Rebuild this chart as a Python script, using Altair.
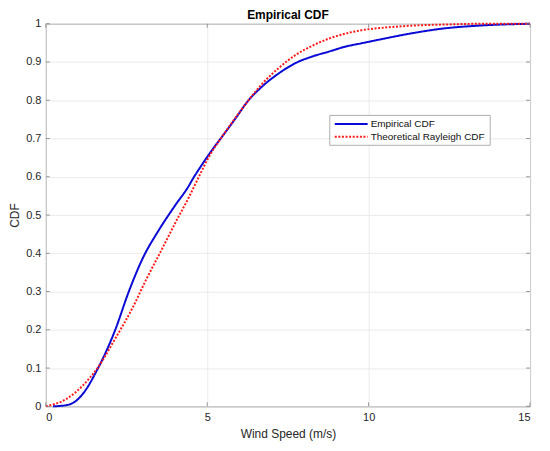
import altair as alt
import pandas as pd

# Empirical CDF
emp_x = [0.22, 0.63, 0.9, 1.14, 1.6, 2.15, 2.57, 2.99, 3.51, 4.02, 4.44, 4.50,
         4.80, 5.15, 5.46, 5.88, 6.25, 6.70, 7.21, 7.73, 8.24, 8.76, 9.27, 9.78, 10.3,
         11.33, 12.36, 13.39, 15.0]
emp_y = [0.0, 0.003, 0.012, 0.032, 0.097, 0.20, 0.30, 0.385, 0.462, 0.527, 0.578, 0.587,
         0.627, 0.67, 0.705, 0.753, 0.797, 0.836, 0.87, 0.897, 0.914, 0.927, 0.94, 0.949, 0.958,
         0.975, 0.988, 0.995, 1.0]

# Theoretical Rayleigh CDF
th_x = [0.0, 0.63, 1.14, 1.6, 2.17, 2.69, 3.1, 3.56, 4.02, 4.44, 4.74, 5.05, 5.46, 5.88, 6.25,
        6.70, 7.21, 7.73, 8.24, 8.76, 9.27, 9.78, 10.5, 11.33, 12.36, 13.5, 15.0]
th_y = [0.0, 0.019, 0.054, 0.10, 0.18, 0.258, 0.33, 0.405, 0.481, 0.548, 0.60, 0.652, 0.705, 0.755, 0.797,
        0.843, 0.884, 0.918, 0.942, 0.961, 0.974, 0.983, 0.99, 0.995, 0.998, 1.0, 1.0]

series = ["Empirical CDF", "Theoretical Rayleigh CDF"]
colors = ["#0a0ad6", "#ff1a1a"]
dashes = [[1, 0], [2, 1.6]]
x_ticks = [0, 5, 10, 15]
y_ticks = [0, 0.1, 0.2, 0.3, 0.4, 0.5, 0.6, 0.7, 0.8, 0.9, 1.0]

W, H = 486, 384
FONT = "Liberation Sans"

df = pd.concat([
    pd.DataFrame({"x": emp_x, "y": emp_y, "s": series[0], "o": 0}),
    pd.DataFrame({"x": th_x, "y": th_y, "s": series[1], "o": 1}),
])

xs = alt.Scale(domain=[0, 15], nice=False)
ys = alt.Scale(domain=[0, 1], nice=False)

x_axis = alt.Axis(values=x_ticks, title="Wind Speed (m/s)", grid=True, tickSize=0,
                  labelPadding=5, titlePadding=6, domain=False, labelOverlap=False)
y_axis = alt.Axis(values=y_ticks, title="CDF", grid=True, tickSize=0,
                  labelPadding=5, titlePadding=4, domain=False, labelOverlap=False,
                  labelExpr="datum.value == 0 ? '0' : datum.value == 1 ? '1' : format(datum.value, '.1f')")

lines = alt.Chart(df).mark_line(strokeWidth=2, interpolate="monotone").encode(
    x=alt.X("x:Q", scale=xs, axis=x_axis),
    y=alt.Y("y:Q", scale=ys, axis=y_axis),
    color=alt.Color("s:N", scale=alt.Scale(domain=series, range=colors), legend=None),
    strokeDash=alt.StrokeDash("s:N", scale=alt.Scale(domain=series, range=dashes), legend=None),
    order="o:Q",
)

ydf = pd.DataFrame({"v": y_ticks})
xdf = pd.DataFrame({"v": x_ticks})
tick_style = dict(color="#7f7f7f", strokeWidth=0.8)
yl = alt.Chart(ydf).mark_rule(**tick_style).encode(y=alt.Y("v:Q", scale=ys, axis=y_axis), x=alt.value(0), x2=alt.value(4))
yr = alt.Chart(ydf).mark_rule(**tick_style).encode(y=alt.Y("v:Q", scale=ys, axis=y_axis), x=alt.value(W - 4), x2=alt.value(W))
xb = alt.Chart(xdf).mark_rule(**tick_style).encode(x=alt.X("v:Q", scale=xs, axis=x_axis), y=alt.value(H - 4), y2=alt.value(H))
xt = alt.Chart(xdf).mark_rule(**tick_style).encode(x=alt.X("v:Q", scale=xs, axis=x_axis), y=alt.value(0), y2=alt.value(4))

# Legend box (drawn manually, MATLAB style)
LX0, LX1, LY0, LY1 = 285, 446, 92, 122
row_y = [100.7, 113.4]
leg_df = pd.DataFrame({"s": series})
box = alt.Chart(leg_df.head(1)).mark_rect(fill="white", stroke="#9a9a9a", strokeWidth=0.8).encode(
    x=alt.value(LX0), x2=alt.value(LX1), y=alt.value(LY0), y2=alt.value(LY1))
leg_layers = [box]
for i, name in enumerate(series):
    sub = pd.DataFrame({"s": [name]})
    leg_layers.append(alt.Chart(sub).mark_rule(color=colors[i], strokeWidth=2, strokeDash=dashes[i]).encode(
        x=alt.value(290), x2=alt.value(323), y=alt.value(row_y[i])))
    leg_layers.append(alt.Chart(sub).mark_text(align="left", baseline="middle", font=FONT, fontSize=10,
                                               color="#111111").encode(
        x=alt.value(326), y=alt.value(row_y[i]), text="s:N"))

chart = alt.layer(lines, yl, yr, xb, xt, *leg_layers).properties(
    width=W, height=H,
    title=alt.Title("Empirical CDF", fontSize=12, fontWeight="bold", font=FONT, color="#000000", offset=-4),
    autosize=alt.AutoSizeParams(type="none"),
    padding={"left": 38, "top": 15, "right": 12, "bottom": 36},
).configure_view(
    stroke="#7f7f7f", strokeWidth=1
).configure_axis(
    labelFont=FONT, titleFont=FONT, labelFontSize=11, titleFontSize=12,
    labelColor="#262626", titleColor="#262626", titleFontWeight="normal",
    gridColor="#e6e6e6", gridWidth=0.8,
)

chart.save("out.html", embed_options={"renderer": "svg", "actions": False})
